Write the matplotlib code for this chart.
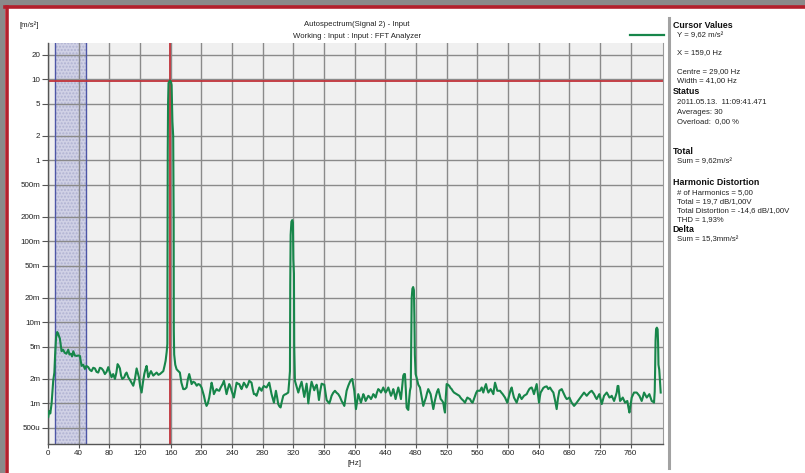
import matplotlib
matplotlib.use("Agg")
import matplotlib.pyplot as plt
from matplotlib.patches import Rectangle
from matplotlib.lines import Line2D

# spectrum: frequency [Hz] and level [mm/s^2]
freq_hz = [
    0.3, 1.5, 3.0, 4.7, 6.8, 8.3, 9.3, 10.5, 12.0, 13.3, 15.5, 17.7, 19.5, 22.0, 24.0, 26.4,
    28.0, 29.9, 31.5, 33.0, 35.0, 37.3, 39.5, 41.6, 43.8, 46.0, 48.1, 50.0, 52.5, 54.5, 56.8,
    59.0, 61.2, 63.3, 65.5, 67.7, 69.9, 72.0, 74.2, 76.4, 78.6, 80.7, 82.9, 85.0, 87.3, 89.2,
    90.8, 92.3, 93.8, 95.3, 96.9, 99.5, 101.0, 102.5, 104.7, 106.9, 109.0, 111.2, 113.4, 115.6,
    117.0, 118.6, 120.3, 122.1, 123.8, 125.6, 127.0, 128.6, 130.8, 132.5, 134.3, 137.3, 139.5,
    141.7, 144.0, 146.0, 148.2, 150.4, 152.0, 153.4, 154.8, 155.7,
    155.9, 156.2, 156.6, 157.2, 158.5, 159.3, 160.3, 161.2, 162.3, 163.3, 163.9, 164.1, 164.6,
    166.0, 167.7, 170.0, 172.0, 174.0, 176.4, 178.5, 180.7, 182.5, 184.2, 185.8, 187.3, 189.5,
    191.6, 194.0, 196.0, 198.0, 200.3, 201.8, 203.4, 205.0, 206.8, 208.5, 210.3, 212.0, 213.4,
    215.0, 216.4, 218.0, 219.9, 221.5, 223.4, 225.0, 226.4, 228.0, 229.5, 231.0, 232.9, 234.5,
    236.4, 238.0, 239.5, 241.0, 242.5, 244.2, 246.0, 247.8, 249.5, 251.0, 252.5, 254.0, 255.5,
    257.2, 259.0, 260.8, 262.5, 264.0, 265.5, 267.0, 268.6, 270.3, 272.0, 273.8, 275.6, 277.0,
    278.6, 280.0, 281.6, 283.3, 285.1, 287.0, 288.6, 290.0, 291.6, 293.2, 294.7, 296.0, 297.3,
    298.8, 300.3, 301.8, 303.4, 305.0, 306.9, 308.5, 310.3, 312.0, 313.4, 314.7, 315.6,
    316.0, 316.5, 317.5, 318.6, 319.5, 320.0, 320.8, 321.2, 322.1,
    324.3, 326.5, 328.6, 330.8, 332.5, 334.3, 335.8, 337.3, 338.4, 339.5, 341.6, 343.8, 345.5,
    347.3, 348.8, 350.4, 352.0, 353.4, 355.0, 356.9, 358.6, 360.4, 362.0, 363.4, 365.0, 366.9,
    368.4, 369.9, 372.0, 374.3, 376.5, 378.6, 380.8, 383.0, 384.8, 386.5, 388.0, 389.5, 391.7,
    393.9, 395.4, 396.9, 398.2, 399.5, 400.6, 401.7, 403.2, 404.7, 406.5, 408.2, 409.8, 411.3,
    412.8, 414.3, 416.0, 417.8, 419.5, 421.3, 422.8, 424.3, 425.8, 427.3, 429.0, 430.8, 432.5,
    434.3, 435.8, 437.3, 438.8, 440.4, 442.2, 443.9, 445.6, 447.4, 449.0, 450.4, 452.0, 453.4,
    455.2, 456.9, 458.6, 460.4, 462.0, 463.4, 464.5, 465.6, 466.7, 467.8, 469.0, 470.0, 471.0,
    472.1, 473.2,
    473.8, 474.4, 475.3, 476.3, 477.3, 477.9, 478.5, 479.5,
    480.8, 483.0, 485.2, 487.4, 489.5, 491.2, 493.0, 494.5, 496.0, 497.5, 499.1, 500.8, 502.6,
    504.4, 506.1, 507.6, 509.1, 510.6, 512.2, 514.0, 515.6, 516.8, 517.8, 518.9, 520.0, 521.8,
    523.5, 525.0, 526.5, 528.0, 529.6, 531.3, 533.0, 534.8, 536.5, 538.0, 539.6, 541.8, 543.9,
    545.4, 547.0, 548.7, 550.4, 552.2, 553.9, 555.4, 557.0, 558.5, 560.0, 561.8, 563.5, 565.7,
    567.8, 569.5, 571.3, 572.8, 574.4, 575.9, 577.4, 579.2, 580.9, 582.0, 583.1, 584.6, 586.1,
    587.8, 589.6, 591.3, 593.1, 594.6, 596.1, 597.6, 599.1, 600.5, 601.8, 603.3, 604.8, 606.3,
    607.8, 609.5, 611.3, 613.0, 614.8, 616.3, 617.8, 619.3, 620.9, 622.6, 624.4, 626.0, 627.8,
    629.4, 630.9, 632.4, 633.9, 635.6, 637.4, 639.0, 640.5, 641.5, 642.6, 644.4, 646.1, 648.3,
    650.5, 652.6, 654.8, 657.0, 659.2, 661.3, 663.5, 665.2, 667.0, 668.6, 670.1, 671.6, 673.1,
    674.8, 676.6, 678.4, 680.1, 681.6, 683.1, 684.7, 686.2, 687.9, 689.6, 691.4, 693.1, 694.7,
    696.2, 697.7, 699.2, 701.0, 702.7, 704.5, 706.2, 707.7, 709.2, 710.8, 712.3, 714.0, 715.7,
    717.5, 719.2, 720.8, 722.3, 723.8, 725.3, 727.0, 728.8, 730.6, 732.3, 733.8, 735.3, 736.9,
    738.4, 740.1, 741.8, 743.0, 744.0, 745.1, 746.2, 748.0, 749.7, 751.2, 752.7, 754.2, 755.7,
    757.0, 758.4, 759.9, 761.4, 762.9, 764.4, 766.2, 767.9, 769.7, 771.4, 772.9, 774.4, 776.0,
    777.5, 779.2, 781.0, 782.7, 784.4, 786.0, 787.5, 789.0, 790.5,
    791.4, 791.9, 792.5, 793.2, 794.2, 795.2, 795.8, 796.3, 797.3, 798.3, 799.2,
]
level_milli = [
    0.68, 0.8, 0.75, 1.0, 1.9, 2.4, 4.0, 6.5, 7.6, 7.2, 6.3, 4.4, 4.6, 4.2, 4.1, 4.6,
    4.0, 4.1, 3.8, 4.4, 3.9, 3.85, 3.9, 3.85, 2.9, 3.0, 2.66, 2.9, 2.8, 2.6, 2.5,
    2.75, 2.7, 2.45, 2.4, 2.75, 2.7, 2.55, 2.3, 2.45, 2.8, 2.4, 2.1, 2.3, 2.0, 2.4,
    3.05, 2.9, 2.7, 2.2, 2.0, 2.1, 2.3, 2.4, 2.1, 1.95, 1.8, 1.65, 2.0, 2.7,
    2.4, 2.1, 1.6, 1.36, 1.8, 2.3, 2.6, 2.9, 2.1, 2.3, 2.5, 2.2, 2.3,
    2.4, 2.25, 2.3, 2.4, 2.5, 2.9, 3.35, 4.3, 5.4,
    100, 1300, 5000, 9000, 9500, 9620, 9300, 8500, 3000, 2000, 200, 8.0, 4.0,
    3.0, 2.64, 2.5, 2.4, 1.8, 1.5, 1.5, 1.57, 2.0, 2.3, 2.0, 1.73, 1.85,
    1.8, 1.65, 1.73, 1.7, 1.57, 1.4, 1.24, 1.05, 0.93, 1.0, 1.18, 1.5, 1.8,
    1.55, 1.3, 1.4, 1.5, 1.45, 1.43, 1.55, 1.64, 1.75, 1.9, 1.6, 1.3, 1.5,
    1.73, 1.6, 1.43, 1.3, 1.18, 1.45, 1.8, 1.75, 1.73, 1.6, 1.5, 1.65, 1.8,
    1.7, 1.57, 1.7, 1.9, 1.85, 1.8, 1.5, 1.3, 1.3, 1.24, 1.4, 1.57, 1.5,
    1.43, 1.55, 1.64, 1.6, 1.57, 1.7, 1.8, 1.55, 1.3, 1.15, 1.02, 1.2, 1.43,
    1.2, 0.98, 0.92, 0.89, 1.05, 1.24, 1.28, 1.3, 1.33, 1.36, 1.9, 2.5,
    30, 120, 175, 183, 170, 60, 40, 5, 1.9,
    1.6, 1.36, 1.6, 1.85, 1.5, 1.2, 1.45, 1.75, 1.4, 1.0, 1.4, 1.85, 1.65,
    1.45, 1.6, 1.7, 1.4, 1.1, 1.4, 1.75, 1.72, 1.7, 1.35, 1.1, 1.05, 1.0,
    1.1, 1.24, 1.35, 1.43, 1.35, 1.3, 1.2, 1.07, 1.0, 0.93, 1.15, 1.43, 1.65,
    1.85, 1.95, 2.0, 1.7, 1.43, 1.1, 0.85, 1.05, 1.3, 1.15, 1.02, 1.15, 1.3,
    1.2, 1.07, 1.15, 1.24, 1.2, 1.13, 1.2, 1.3, 1.25, 1.18, 1.35, 1.5, 1.45,
    1.36, 1.45, 1.57, 1.45, 1.36, 1.45, 1.57, 1.4, 1.24, 1.35, 1.5, 1.3, 1.13,
    1.35, 1.57, 1.35, 1.13, 1.6, 2.2, 2.3, 2.3, 1.5, 0.89, 0.85, 0.83, 1.1,
    1.43, 1.6,
    5, 20, 26, 27.3, 25, 12, 4, 2.3,
    2.08, 1.7, 1.57, 1.2, 0.93, 1.05, 1.18, 1.35, 1.5, 1.4, 1.3, 1.05, 0.85,
    1.05, 1.24, 1.4, 1.5, 1.3, 1.13, 1.08, 1.02, 0.85, 0.77, 1.2, 1.73, 1.7,
    1.64, 1.55, 1.5, 1.42, 1.36, 1.33, 1.3, 1.27, 1.24, 1.18, 1.13, 1.08, 1.02,
    1.1, 1.18, 1.15, 1.13, 1.05, 1.02, 1.12, 1.24, 1.35, 1.43, 1.43, 1.43, 1.57,
    1.36, 1.55, 1.73, 1.5, 1.36, 1.43, 1.5, 1.4, 1.3, 1.55, 1.8, 1.6, 1.43,
    1.43, 1.43, 1.36, 1.3, 1.24, 1.18, 1.1, 1.02, 1.15, 1.3, 1.45, 1.57, 1.35,
    1.18, 1.1, 1.02, 1.15, 1.3, 1.2, 1.13, 1.18, 1.24, 1.27, 1.3, 1.4, 1.5,
    1.55, 1.57, 1.45, 1.3, 1.5, 1.73, 1.3, 1.02, 1.2, 1.36, 1.45, 1.55, 1.6,
    1.62, 1.5, 1.57, 1.45, 1.36, 1.1, 0.85, 1.15, 1.43, 1.47, 1.5, 1.4, 1.3,
    1.2, 1.13, 1.15, 1.18, 1.1, 1.02, 0.97, 0.93, 0.97, 1.02, 1.08, 1.13, 1.18,
    1.24, 1.3, 1.36, 1.3, 1.24, 1.3, 1.36, 1.4, 1.43, 1.36, 1.3, 1.2, 1.13,
    1.22, 1.3, 1.12, 0.98, 1.1, 1.24, 1.3, 1.36, 1.27, 1.18, 1.2, 1.24, 1.15,
    1.07, 1.2, 1.36, 1.64, 1.64, 1.3, 1.07, 1.12, 1.18, 1.1, 1.02, 1.05, 1.07,
    0.9, 0.77, 0.95, 1.18, 1.27, 1.36, 1.36, 1.36, 1.3, 1.24, 1.15, 1.07, 1.2,
    1.36, 1.27, 1.18, 1.24, 1.3, 1.18, 1.07, 1.05, 1.02,
    1.4, 2.5, 6.0, 8.3, 8.6, 8.2, 5.5, 3.0, 2.6, 1.8, 1.36,
]

y_ticks = [20, 10, 5, 2, 1, 0.5, 0.2, 0.1, 0.05, 0.02, 0.01, 0.005, 0.002, 0.001, 0.0005]
y_labels = ["20", "10", "5", "2", "1", "500m", "200m", "100m", "50m", "20m",
            "10m", "5m", "2m", "1m", "500u"]
x_ticks = [0, 40, 80, 120, 160, 200, 240, 280, 320, 360, 400, 440, 480, 520,
           560, 600, 640, 680, 720, 760]

cursor_x = 159.0
cursor_y = 9.62
band_centre = 29.0
band_width = 41.0

title_lines = ["Autospectrum(Signal 2) - Input", "Working : Input : Input : FFT Analyzer"]
panel_text = [
    ("Cursor Values", True), ("Y = 9,62 m/s²", False), ("X = 159,0 Hz", False),
    ("Centre = 29,00 Hz", False), ("Width = 41,00 Hz", False), ("Status", True),
    ("2011.05.13.  11:09:41.471", False), ("Averages: 30", False),
    ("Overload:  0,00 %", False), ("Total", True), ("Sum = 9,62m/s²", False),
    ("Harmonic Distortion", True), ("# of Harmonics = 5,00", False),
    ("Total = 19,7 dB/1,00V", False), ("Total Distortion = -14,6 dB/1,00V", False),
    ("THD = 1,93%", False), ("Delta", True), ("Sum = 15,3mm/s²", False),
]
panel_y = [25, 36, 53, 72, 80.5, 92, 103, 112, 121.5, 151, 162, 182, 193, 202, 211, 219.5, 229, 239.5]

W, H = 805, 473
plt.rcParams['font.family'] = ['Liberation Sans', 'DejaVu Sans']

def fx(px):
    return px / W

def fy(py):
    return 1 - py / H

fig = plt.figure(figsize=(W / 100, H / 100), dpi=100, facecolor='white')

# window frame
fig.patches.append(Rectangle((0, fy(6)), 1, 6 / H, transform=fig.transFigure,
                             facecolor='#8a8a8a', edgecolor='none', zorder=0))
fig.patches.append(Rectangle((0, 0), 5 / W, 1, transform=fig.transFigure,
                             facecolor='#8a8a8a', edgecolor='none', zorder=0))
fig.lines.append(Line2D([fx(5), 1], [fy(7.5), fy(7.5)], transform=fig.transFigure,
                        color='#b3202c', lw=2.6))
fig.lines.append(Line2D([fx(6.5), fx(6.5)], [fy(7.5), 0], transform=fig.transFigure,
                        color='#b3202c', lw=2.6))

ax = fig.add_axes([fx(48), fy(444), (663 - 48) / W, (444 - 43) / H])
ax.set_facecolor('#f0f0f0')
ax.set_yscale('log')
ax.set_xlim(0, 802.2)
ax.set_ylim(3.15e-4, 28.1)
ax.set_xticks(x_ticks)
ax.set_xticklabels([str(t) for t in x_ticks])
ax.set_yticks(y_ticks)
ax.set_yticklabels(y_labels)
ax.minorticks_off()
ax.set_axisbelow(True)
ax.grid(True, color='#8a8a8a', lw=1.0)
ax.tick_params(length=4, width=0.8, color='#555555', labelsize=5.8, pad=1.5,
               labelcolor='#222222')
ax.tick_params(axis='x', length=3, pad=1.0)
for side in ['left', 'bottom']:
    ax.spines[side].set_color('#555555')
    ax.spines[side].set_linewidth(1.0)
ax.spines['top'].set_visible(False)
ax.spines['right'].set_color('#9a9a9a')

# selection band
lo = band_centre - band_width / 2
hi = band_centre + band_width / 2
ax.axvspan(lo, hi, facecolor='#cbcce4', edgecolor='none', alpha=0.85, zorder=0.3)
ax.axvspan(lo, hi, facecolor='none', edgecolor='#b0b2d2', hatch='.....', lw=0, zorder=0.35)
ax.axvline(lo, color='#4d56a6', lw=1.0, zorder=0.6)
ax.axvline(hi, color='#4d56a6', lw=1.0, zorder=0.6)

level = [v * 1e-3 for v in level_milli]
ax.plot(freq_hz, level, color='#17864a', lw=1.5, zorder=3)

ax.axvline(cursor_x, color='#c0323a', lw=1.3, zorder=2)
ax.axhline(cursor_y, color='#c0323a', lw=1.3, zorder=2)

# texts around the plot
fig.text(fx(20), fy(25), "[m/s²]", fontsize=5.6, va='center', ha='left', color='#222222')
fig.text(fx(357), fy(25), title_lines[0], fontsize=5.6, ha='center', va='center', color='#222222')
fig.text(fx(357), fy(37), title_lines[1], fontsize=5.6, ha='center', va='center', color='#222222')
fig.text(fx(354.7), fy(463.5), "[Hz]", fontsize=5.6, ha='center', va='center', color='#222222')

# legend sample
fig.lines.append(Line2D([fx(630), fx(664)], [fy(35), fy(35)], transform=fig.transFigure,
                        color='#17864a', lw=1.6))

# separator of the info panel
fig.lines.append(Line2D([fx(669), fx(669)], [fy(18), fy(468)], transform=fig.transFigure,
                        color='#a2a2a2', lw=2.2))

for (txt, bold), y in zip(panel_text, panel_y):
    if bold:
        fig.text(fx(672.5), fy(y), txt, fontsize=6.4, fontweight='bold', va='center',
                 ha='left', color='#111111')
    else:
        fig.text(fx(676.5), fy(y), txt, fontsize=5.6, va='center', ha='left', color='#222222')

fig.savefig('out.png', dpi=100, facecolor='white')
